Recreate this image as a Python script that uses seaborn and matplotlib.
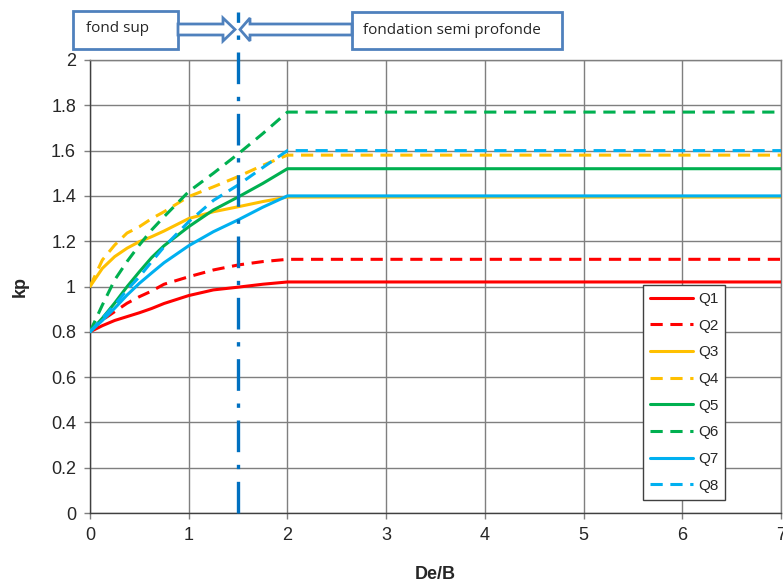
import matplotlib
matplotlib.use("Agg")
import matplotlib.pyplot as plt
from matplotlib.patches import Polygon, Rectangle
import pandas as pd
import seaborn as sns

# De/B sample positions (curves up to 2, then flat to 7)
x_vals = [0, 0.125, 0.25, 0.375, 0.5, 0.625, 0.75, 1, 1.25, 1.5, 1.75, 2, 7]

q1 = [0.80, 0.827, 0.85, 0.867, 0.884, 0.903, 0.925, 0.96, 0.985, 0.997, 1.01, 1.02, 1.02]
q2 = [0.80, 0.852, 0.889, 0.926, 0.955, 0.98, 1.01, 1.043, 1.073, 1.095, 1.11, 1.12, 1.12]
q3 = [1.00, 1.08, 1.132, 1.169, 1.198, 1.22, 1.245, 1.30, 1.33, 1.352, 1.375, 1.395, 1.395]
q4 = [1.00, 1.117, 1.183, 1.236, 1.264, 1.30, 1.33, 1.397, 1.44, 1.485, 1.535, 1.58, 1.58]
q5 = [0.80, 0.86, 0.927, 0.999, 1.065, 1.128, 1.18, 1.264, 1.338, 1.395, 1.455, 1.52, 1.52]
q6 = [0.80, 0.918, 1.029, 1.11, 1.183, 1.25, 1.308, 1.419, 1.50, 1.585, 1.675, 1.77, 1.77]
q7 = [0.80, 0.85, 0.904, 0.962, 1.014, 1.06, 1.105, 1.18, 1.242, 1.294, 1.35, 1.40, 1.40]
q8 = [0.80, 0.86, 0.918, 0.985, 1.043, 1.11, 1.175, 1.286, 1.38, 1.448, 1.525, 1.60, 1.60]

series_names = ["Q1", "Q2", "Q3", "Q4", "Q5", "Q6", "Q7", "Q8"]
series_vals = [q1, q2, q3, q4, q5, q6, q7, q8]
colors = ["#FF0000", "#FF0000", "#FFC000", "#FFC000",
          "#00B050", "#00B050", "#00B0F0", "#00B0F0"]
dashed = [False, True, False, True, False, True, False, True]

x_ticks = [0, 1, 2, 3, 4, 5, 6, 7]
y_ticks = [0, 0.2, 0.4, 0.6, 0.8, 1, 1.2, 1.4, 1.6, 1.8, 2]
y_labels = ["0", "0.2", "0.4", "0.6", "0.8", "1", "1.2", "1.4", "1.6", "1.8", "2"]
limit_x = 1.5

sns.set_style("white")
plt.rcParams["font.family"] = ["Liberation Sans", "DejaVu Sans"]

W, H = 783, 583
fig = plt.figure(figsize=(W / 100, H / 100), dpi=100)
ax = fig.add_axes([90 / W, 70 / H, 691 / W, 453 / H])

for name, vals, col, dsh in zip(series_names, series_vals, colors, dashed):
    df = pd.DataFrame({"De/B": x_vals, "kp": vals})
    sns.lineplot(data=df, x="De/B", y="kp", ax=ax, color=col,
                 linewidth=2.2, label=name, zorder=3)
    if dsh:
        ax.lines[-1].set_dashes((4, 2.5))

# separation line fond sup / fondation semi profonde
ax.axvline(limit_x, ymin=0, ymax=(513 - 12) / 453, color="#0070C0",
           linewidth=2.4, linestyle=(0, (9.5, 3.8, 1.3, 3.8)),
           clip_on=False, zorder=4)

ax.set_xlim(0, 7)
ax.set_ylim(0, 2)
ax.set_xticks(x_ticks)
ax.set_yticks(y_ticks)
ax.set_yticklabels(y_labels)
ax.grid(True, color="#7f7f7f", linewidth=1)
ax.set_axisbelow(True)
for s in ax.spines.values():
    s.set_color("#7f7f7f")
    s.set_linewidth(1)
ax.spines["left"].set_color("#404040")
ax.spines["bottom"].set_color("#404040")
ax.tick_params(direction="out", length=4, width=1, color="#7f7f7f",
               labelsize=13, pad=6, bottom=True, left=True)
ax.set_xlabel("De/B", fontsize=13, fontweight="bold", labelpad=16)
ax.set_ylabel("kp", fontsize=13, fontweight="bold", labelpad=16)

leg = ax.legend(loc="upper left", bbox_to_anchor=(0.8003, 0.503), frameon=True,
                fancybox=False, fontsize=11, labelspacing=0.83,
                handlelength=2.8, handletextpad=0.35, borderpad=0.45,
                borderaxespad=0, edgecolor="#404040", framealpha=1)
leg.get_frame().set_linewidth(1)

# top annotation boxes with block arrows (figure pixel coordinates)
def px(x, y):
    return (x / W, 1 - y / H)

box_col = "#4F81BD"
fig.patches.append(Rectangle(px(73, 49), 105 / W, 38 / H, transform=fig.transFigure,
                             facecolor="white", edgecolor=box_col, linewidth=2))
fig.patches.append(Rectangle(px(352, 49), 210 / W, 37 / H, transform=fig.transFigure,
                             facecolor="white", edgecolor=box_col, linewidth=2))
right_arrow = [(178, 24), (223, 24), (223, 18), (235, 29.5), (223, 41), (223, 35), (178, 35)]
left_arrow = [(352, 24), (250, 24), (250, 18), (240, 29.5), (250, 41), (250, 35), (352, 35)]
for pts in (right_arrow, left_arrow):
    fig.patches.append(Polygon([px(a, b) for a, b in pts], closed=True,
                               transform=fig.transFigure, facecolor="white",
                               edgecolor=box_col, linewidth=2))
fig.text(86 / W, 1 - 29 / H, "fond sup", fontsize=11, va="center", ha="left",
         family=["Open Sans", "DejaVu Sans"])
fig.text(363 / W, 1 - 30 / H, "fondation semi profonde", fontsize=11,
         va="center", ha="left", family=["Open Sans", "DejaVu Sans"])

fig.savefig("out.png", dpi=100)
